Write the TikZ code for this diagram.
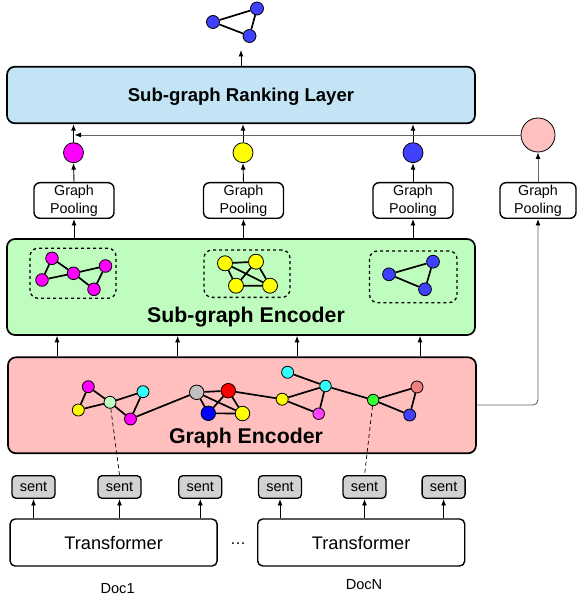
\documentclass[tikz,border=0pt]{standalone}
\usepackage{fontspec}
\setmainfont{Liberation Sans}
\usetikzlibrary{arrows.meta,calc}
\definecolor{rankblue}{RGB}{194,228,245}
\definecolor{sgegreen}{RGB}{191,253,191}
\definecolor{gepink}{RGB}{255,191,191}
\definecolor{nmag}{RGB}{255,0,255}
\definecolor{nyel}{RGB}{255,255,0}
\definecolor{nblue}{RGB}{64,64,255}
\definecolor{pblue}{RGB}{0,0,255}
\definecolor{ncyan}{RGB}{51,255,255}
\definecolor{nlgreen}{RGB}{191,255,191}
\definecolor{ngray}{RGB}{192,192,192}
\definecolor{nred}{RGB}{255,0,0}
\definecolor{nmag2}{RGB}{255,64,255}
\definecolor{ngreen}{RGB}{51,255,51}
\definecolor{nsalmon}{RGB}{240,128,128}
\definecolor{sentgray}{RGB}{210,210,210}
\definecolor{pinkcirc}{RGB}{255,192,192}
\definecolor{lgray}{RGB}{100,100,100}
\tikzset{
  bigbox/.style={draw, line width=1.7pt, rounded corners=8pt, inner sep=0pt},
  bigtext/.style={font=\bfseries\fontsize{21.3}{24}\selectfont, inner sep=0pt},
  poolbox/.style={draw, fill=white, line width=1.4pt, rounded corners=6pt, minimum width=80pt, minimum height=35.6pt, align=center, inner sep=0pt, font=\fontsize{14.3}{18.3}\selectfont},
  sentbox/.style={draw, fill=sentgray, line width=1.3pt, rounded corners=4pt, minimum width=43pt, minimum height=22.6pt, inner sep=0pt, font=\fontsize{14.5}{16}\selectfont},
  trbox/.style={draw, line width=1.4pt, rounded corners=5pt, minimum width=207pt, minimum height=47pt, inner sep=0pt, font=\fontsize{18.2}{20}\selectfont},
  gn/.style={circle, draw, line width=0.8pt, inner sep=0pt, minimum size=#1},
  gn/.default=12pt,
  gedge/.style={line width=1.7pt},
  arr/.style={-{Latex[length=6.5pt,width=5pt,color=black]}, line width=0.9pt},
  dbox/.style={draw, dashed, dash pattern=on 3pt off 3pt, line width=1.3pt, rounded corners=8pt, inner sep=0pt}
}
\begin{document}
\begin{tikzpicture}[x=1pt,y=-1pt]
\useasboundingbox (0,0) rectangle (577,601);

% ---------- top graph ----------
\node[gn=13pt, fill=nblue] (ta) at (213,22) {};
\node[gn=13pt, fill=nblue] (tb) at (257,8.5) {};
\node[gn=13pt, fill=nblue] (tc) at (249.5,36) {};
\draw[gedge] (ta) -- (tb) (tb) -- (tc) (tc) -- (ta);
\coordinate (topin) at (241,50);

% ---------- ranking layer ----------
\node[bigbox, fill=rankblue, minimum width=468pt, minimum height=56.6pt] (rank) at (241,95) {};
\node[font=\bfseries\fontsize{18.6}{22}\selectfont, inner sep=0pt] (ranktxt) at (241,96.7) {Sub-graph Ranking Layer};
\draw[arr] (rank.north) -- (topin);

% ---------- pooled circles ----------
\node[gn=20pt, fill=nmag] (c1) at (73.5,152.7) {};
\node[gn=20pt, fill=nyel] (c2) at (243,152.7) {};
\node[gn=20pt, fill=nblue] (c3) at (413,152.7) {};
\node[gn=34pt, fill=pinkcirc] (pc) at (538,135) {};

% ---------- pooling boxes ----------
\node[poolbox] (p1) at (74,200.5) {Graph\\Pooling};
\node[poolbox] (p2) at (243.5,200.5) {Graph\\Pooling};
\node[poolbox] (p3) at (413,200.5) {Graph\\Pooling};
\node[poolbox, minimum width=76pt] (p4) at (538,200.5) {Graph\\Pooling};

% ---------- sub-graph encoder ----------
\node[bigbox, fill=sgegreen, minimum width=468pt, minimum height=96pt] (sge) at (241,287) {};
\node[bigtext] (sgetxt) at (246,316.7) {Sub-graph Encoder};

\node[dbox, minimum width=86pt, minimum height=50pt] (db1) at (73,273.3) {};
\node[dbox, minimum width=86pt, minimum height=47.3pt] (db2) at (247,273.7) {};
\node[dbox, minimum width=87.5pt, minimum height=51.7pt] (db3) at (413.3,276.8) {};

% magenta sub-graph
\node[gn=12.6pt, fill=nmag] (ma) at (52,258.3) {};
\node[gn=12.6pt, fill=nmag] (mb) at (105.5,266) {};
\node[gn=12.6pt, fill=nmag] (mc) at (73.5,273.3) {};
\node[gn=12.6pt, fill=nmag] (md) at (42,280) {};
\node[gn=12.6pt, fill=nmag] (me) at (94,289.3) {};
\draw[gedge] (ma) -- (mc) (ma) -- (md) (md) -- (mc) (mc) -- (mb) (mb) -- (me) (mc) -- (me);
% yellow sub-graph
\node[gn=15pt, fill=nyel] (ya) at (225,263.3) {};
\node[gn=15pt, fill=nyel] (yb) at (256,261.7) {};
\node[gn=15pt, fill=nyel] (yc) at (236,285.7) {};
\node[gn=15pt, fill=nyel] (yd) at (270,285.7) {};
\draw[gedge] (ya) -- (yb) (ya) -- (yc) (ya) -- (yd) (yb) -- (yc) (yb) -- (yd) (yc) -- (yd);
% blue sub-graph
\node[gn=12.8pt, fill=nblue] (ba) at (433,261.7) {};
\node[gn=12.8pt, fill=nblue] (bb) at (389,274.3) {};
\node[gn=12.8pt, fill=nblue] (bc) at (425,289.3) {};
\draw[gedge] (ba) -- (bb) (bb) -- (bc) (bc) -- (ba);

% ---------- graph encoder ----------
\node[bigbox, fill=gepink, minimum width=468pt, minimum height=96pt] (ge) at (242,405.3) {};
\node[bigtext] (getxt) at (246,438.3) {Graph Encoder};

\node[gn=12pt, fill=nmag] (g1) at (88.3,386.7) {};
\node[gn=12pt, fill=nyel] (g2) at (78.3,410) {};
\node[gn=12pt, fill=nlgreen] (g3) at (110,402.3) {};
\node[gn=12pt, fill=ncyan] (g4) at (143,391.7) {};
\node[gn=12pt, fill=nmag] (g5) at (130.5,419) {};
\node[gn=14.5pt, fill=ngray] (g6) at (196.7,392.3) {};
\node[gn=14.5pt, fill=nred] (g7) at (228.3,390.7) {};
\node[gn=14.5pt, fill=pblue] (g8) at (208.3,413.3) {};
\node[gn=14.5pt, fill=nyel] (g9) at (242.5,413.5) {};
\node[gn=12pt, fill=ncyan] (g10) at (287.6,372.3) {};
\node[gn=11.5pt, fill=ncyan] (g11) at (325.5,386) {};
\node[gn=12pt, fill=nyel] (g12) at (282.2,399.2) {};
\node[gn=11.5pt, fill=nmag2] (g13) at (318.7,413.7) {};
\node[gn=11.5pt, fill=ngreen] (g14) at (373.2,400) {};
\node[gn=12pt, fill=nsalmon] (g15) at (417,387) {};
\node[gn=12pt, fill=nblue] (g16) at (409.7,415) {};
\draw[gedge] (g1) -- (g2) (g1) -- (g3) (g2) -- (g3) (g3) -- (g4) (g3) -- (g5) (g4) -- (g5)
  (g5) -- (g6) (g6) -- (g7) (g6) -- (g8) (g6) -- (g9) (g7) -- (g8) (g7) -- (g9) (g8) -- (g9)
  (g7) -- (g12) (g12) -- (g11) (g12) -- (g13) (g11) -- (g13) (g10) -- (g11) (g11) -- (g14)
  (g14) -- (g15) (g14) -- (g16) (g15) -- (g16);

% ---------- arrows between layers ----------
\foreach \xx in {57,177.6,297,420}{
  \draw[arr] (\xx,0 |- ge.north) -- (\xx,0 |- sge.south);
}
\foreach \p/\c in {p1/c1,p2/c2,p3/c3}{
  \draw[arr] (\p.south |- sge.north) -- (\p.south);
  \draw[arr] (\p.north) -- (\c.south);
  \draw[arr] (\c.north) -- (\c.north |- rank.south);
}
\draw[arr, lgray, rounded corners=5pt] (ge.east |- 0,405) -- (p4.south |- 0,405) -- (p4.south);
\draw[arr, lgray] (p4.north) -- (pc.south);
\draw[arr, lgray] (pc.west) -- ($(c1.north |- pc.west)+(1,0)$);

% ---------- sentences and transformers ----------
\node[sentbox] (s1) at (33.5,487) {sent};
\node[sentbox] (s2) at (119.5,487) {sent};
\node[sentbox] (s3) at (200.3,487) {sent};
\node[sentbox] (s4) at (280,487) {sent};
\node[sentbox] (s5) at (364.5,487) {sent};
\node[sentbox] (s6) at (443.6,487) {sent};

\node[trbox] (t1) at (113.6,542.5) {Transformer};
\node[trbox] (t2) at (361.2,542.5) {Transformer};
\node[font=\fontsize{16}{18}\selectfont, inner sep=0pt] (dots) at (238,544) {\ldots};

\foreach \s in {s1,s2,s3}{ \draw[arr] (\s.south |- t1.north) -- (\s.south); }
\foreach \s in {s4,s5,s6}{ \draw[arr] (\s.south |- t2.north) -- (\s.south); }

\draw[dashed, dash pattern=on 4pt off 3pt, line width=0.7pt] (g3) -- (s2.north);
\draw[dashed, dash pattern=on 4pt off 3pt, line width=0.7pt] (g14) -- (s5.north);

\node[font=\fontsize{14.6}{16}\selectfont, inner sep=0pt] (doc1) at (117.6,588.3) {Doc1};
\node[font=\fontsize{14.6}{16}\selectfont, inner sep=0pt] (docn) at (364,585) {DocN};
\end{tikzpicture}
\end{document}
